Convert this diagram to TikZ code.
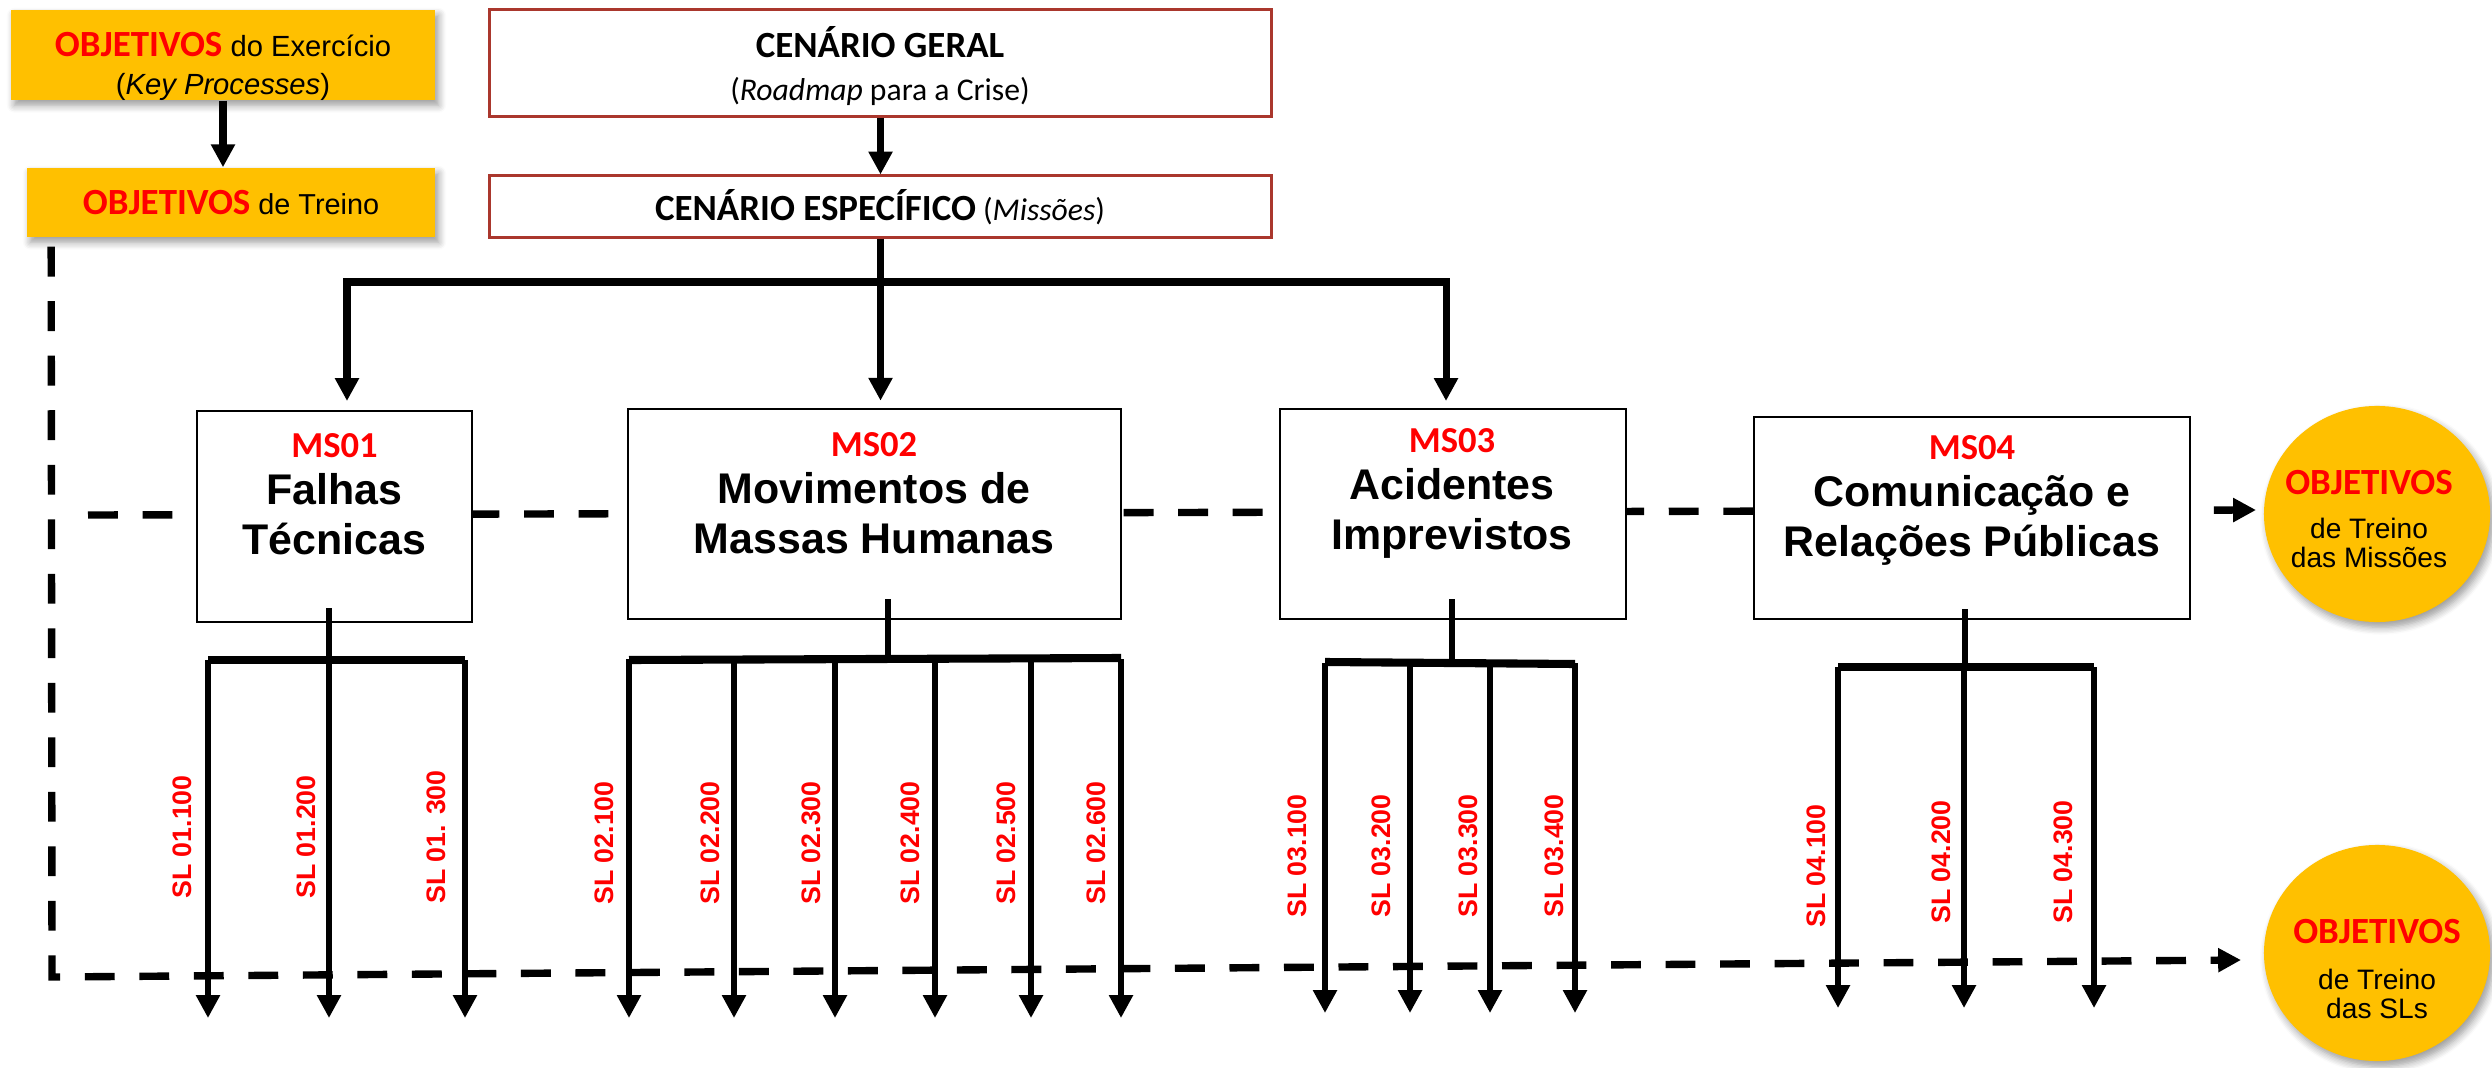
\documentclass[tikz,border=0pt]{standalone}
\usepackage{fontspec}
\setmainfont{Liberation Sans}
\newfontfamily\carl{Carlito}
\usetikzlibrary{arrows.meta,shapes.geometric,shadows.blur,calc}
\definecolor{orng}{RGB}{255,192,0}
\definecolor{redt}{RGB}{255,0,0}
\definecolor{brd}{RGB}{170,55,45}
\newcommand{\redobj}[1]{{\carl\bfseries\fontsize{10.5}{12}\selectfont\color{redt}#1}}
\newcommand{\mscode}[1]{{\carl\bfseries\fontsize{10.4}{12}\selectfont\color{redt}#1}}
\begin{document}
\begin{tikzpicture}[x=0.01cm,y=-0.01cm,
  >={Triangle[length=6.5pt,width=6.5pt]},
  orangebox/.style={fill=orng, inner sep=0pt, blur shadow={shadow xshift=1pt,shadow yshift=-1.5pt,shadow blur steps=6,shadow opacity=40}},
  scenbox/.style={draw=brd, line width=0.85pt, fill=white, inner sep=0pt},
  msbox/.style={draw=black, line width=0.7pt, fill=white, inner sep=0pt},
  goal/.style={ellipse, fill=orng, inner sep=0pt, minimum width=2.26cm, minimum height=2.16cm, blur shadow={shadow xshift=1pt,shadow yshift=-1.5pt,shadow blur steps=6,shadow opacity=40}},
  txt/.style={align=center, inner sep=0pt},
  mstxt/.style={align=center, inner sep=0pt, font=\fontsize{12.2}{14.2}\selectfont\bfseries},
  goaltxt/.style={align=center, inner sep=0pt, font=\fontsize{8}{8.3}\selectfont},
  conn/.style={line width=2pt, line join=miter},
  bar/.style={line width=2.3pt},
  stem/.style={line width=1.6pt},
  slarrow/.style={line width=1.6pt, ->},
  dashline/.style={line width=2.1pt, dash pattern=on 8.5pt off 7pt},
  sl/.style={rotate=90, inner sep=0pt, text=redt, font=\fontsize{7.6}{9}\selectfont\bfseries}
]
\useasboundingbox (0,0) rectangle (2492,1067);

% ---------- top-left objectives
\node[orangebox, minimum width=4.24cm, minimum height=0.90cm] (objA) at (223,55) {};
\node[orangebox, minimum width=4.08cm, minimum height=0.69cm] (objB) at (231,202.5) {};
\node[txt, font=\fontsize{8.3}{10.8}\selectfont] (objAt) at (223,66) {\redobj{OBJETIVOS} do Exercício\\(\textit{Key Processes})};
\node[txt, font=\fontsize{8.2}{10}\selectfont] (objBt) at (231,203) {\redobj{OBJETIVOS} de Treino};
\draw[conn,->] (objA.south) -- (objA.south |- objB.north);

% ---------- dashed lines (behind boxes)
\coordinate (dv0) at ($(objB.south west)+(25,9)$);
\coordinate (dv1) at (52,977);
\coordinate (dbend) at (2241,960);
\coordinate (dm0) at (88,515);
\coordinate (dm1) at (2256,510);
\draw[dashline,->] (dv0) -- (dv1) -- (dbend);
\draw[dashline,->] (dm0) -- (dm1);

% ---------- scenario boxes
\node[scenbox, minimum width=7.81cm, minimum height=1.06cm] (cg) at (880.5,63) {};
\node[scenbox, minimum width=7.81cm, minimum height=0.61cm] (ce) at (880.5,206.5) {};
\node[txt, font=\fontsize{9}{12.2}\selectfont\carl] (cgt) at (880,66) {{\bfseries\fontsize{10.5}{12.2}\selectfont CENÁRIO GERAL}\\(\textit{Roadmap} para a Crise)};
\node[txt, font=\fontsize{9}{12}\selectfont\carl] (cet) at (880,207) {{\bfseries\fontsize{10.5}{12}\selectfont CENÁRIO ESPECÍFICO} (\textit{Missões})};
\draw[conn,->] (cg.south) -- (cg.south |- ce.north);

% ---------- mission boxes
\node[msbox, minimum width=2.75cm, minimum height=2.11cm] (ms1) at (334.5,516.5) {};
\node[msbox, minimum width=4.93cm, minimum height=2.10cm] (ms2) at (874.5,514) {};
\node[msbox, minimum width=3.46cm, minimum height=2.10cm] (ms3) at (1453,514) {};
\node[msbox, minimum width=4.36cm, minimum height=2.02cm] (ms4) at (1972,518) {};
\node[mstxt] (ms1t) at (334.5,494) {\mscode{MS01}\\[-0.8pt]Falhas\\Técnicas};
\node[mstxt] (ms2t) at (874,493) {\mscode{MS02}\\[-0.8pt]Movimentos de\\Massas Humanas};
\node[mstxt] (ms3t) at (1452,493) {\mscode{MS03}\\[-0.8pt]Acidentes\\Imprevistos};
\node[mstxt] (ms4t) at (1972,500) {\mscode{MS04}\\[-0.8pt]Comunicação e\\Relações Públicas};

% ---------- distribution from specific scenario
\coordinate (t1) at (347,401);
\coordinate (t3) at (1446,401);
\coordinate (hj) at (878,282);
\draw[conn,{Triangle[length=6.5pt,width=6.5pt]}-{Triangle[length=6.5pt,width=6.5pt]}] (t1) |- (hj) -| (t3);
\draw[conn,->] (ce.south) -- ($(ce.south |- ms2.north)+(0,-7)$);

% ---------- goal circles
\node[goal] (g1) at (2377,514) {};
\node[goal] (g2) at (2377,953) {};
\node[goaltxt] (g1t) at (2369,519) {\redobj{OBJETIVOS}\\[4.2pt]de Treino\\das Missões};
\node[goaltxt] (g2t) at (2377,969) {\redobj{OBJETIVOS}\\[4.6pt]de Treino\\das SLs};

% ---------- MS01 sublevels
\draw[stem] ($(ms1.south)+(-5.5,-15)$) -- (329,660);
\draw[bar] (208,660) -- (465,660);
\foreach \x in {208,329,465} \draw[slarrow] (\x,660) -- (\x,1018);
\node[sl] (s11) at (182,837) {SL 01.100};
\node[sl] (s12) at (306,837) {SL 01.200};
\node[sl] (s13) at (436,837) {SL 01. 300};

% ---------- MS02 sublevels
\draw[stem] ($(ms2.south)+(13.5,-21)$) -- (888,659);
\draw[bar] (629,660) -- (1121,658);
\foreach \x in {629,734,835,935,1031,1121} \draw[slarrow] (\x,659) -- (\x,1018);
\node[sl] (s21) at (604,843) {SL 02.100};
\node[sl] (s22) at (710,843) {SL 02.200};
\node[sl] (s23) at (811,843) {SL 02.300};
\node[sl] (s24) at (910,843) {SL 02.400};
\node[sl] (s25) at (1006,843) {SL 02.500};
\node[sl] (s26) at (1096,843) {SL 02.600};

% ---------- MS03 sublevels
\draw[stem] ($(ms3.south)+(-1,-21)$) -- (1452,662);
\draw[bar] (1325,662) -- (1575,664);
\foreach \x in {1325,1410,1490,1575} \draw[slarrow] (\x,663) -- (\x,1013);
\node[sl] (s31) at (1297,856) {SL 03.100};
\node[sl] (s32) at (1381,856) {SL 03.200};
\node[sl] (s33) at (1468,856) {SL 03.300};
\node[sl] (s34) at (1554,856) {SL 03.400};

% ---------- MS04 sublevels
\draw[stem] ($(ms4.south)+(-7,-11)$) -- (1965,667);
\draw[bar] (1838,667) -- (2094,667);
\foreach \x in {1838,1964,2094} \draw[slarrow] (\x,667) -- (\x,1008);
\node[sl] (s41) at (1816,866) {SL 04.100};
\node[sl] (s42) at (1941,862) {SL 04.200};
\node[sl] (s43) at (2063,862) {SL 04.300};
\end{tikzpicture}
\end{document}
